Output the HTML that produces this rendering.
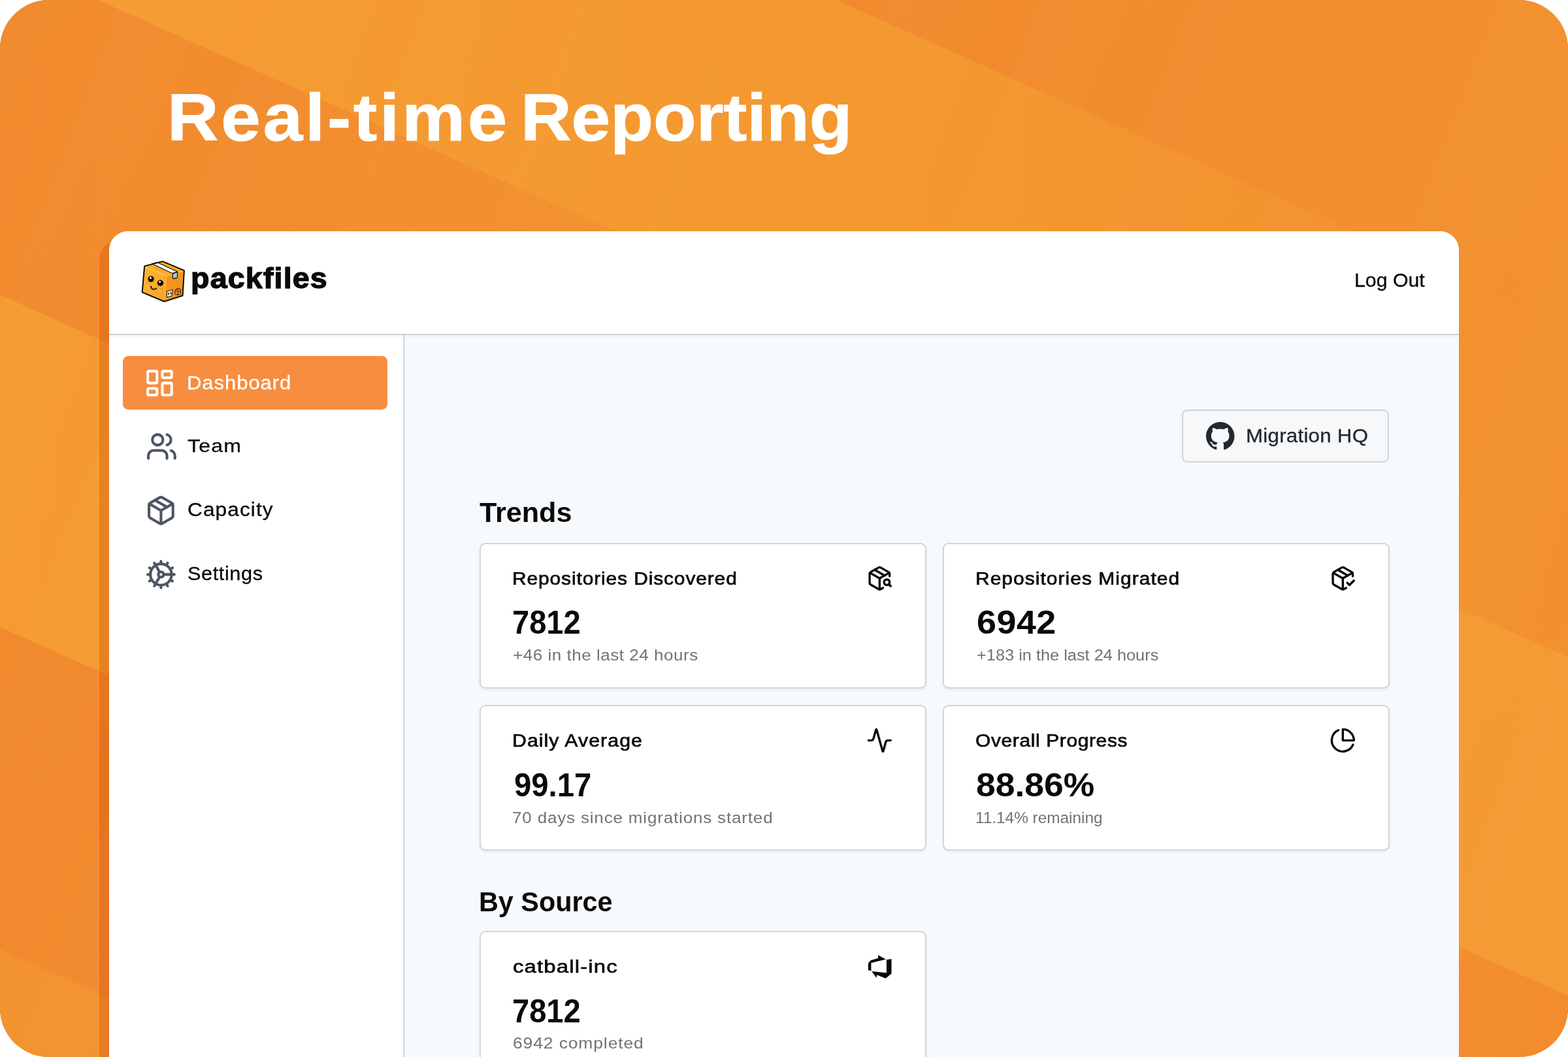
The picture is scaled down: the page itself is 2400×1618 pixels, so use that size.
<!DOCTYPE html>
<html lang="en">
<head>
<meta charset="utf-8">
<title>Real-time Reporting</title>
<style>
*{box-sizing:border-box;margin:0;padding:0}
html,body{width:2400px;height:1618px;overflow:hidden;background:#fff}
body{position:relative;font-family:"Liberation Sans",sans-serif}
.stage{position:absolute;left:0;top:0;width:2400px;height:1618px;border-radius:75px;overflow:hidden;background:#f28d2e}
.stage>svg.bg{position:absolute;left:0;top:0}
.t{position:absolute;white-space:nowrap;transform-origin:0 0;font-family:"Liberation Sans",sans-serif}
.shadow{position:absolute;left:152px;top:368.3px;width:200px;height:1400px;border-radius:29px 0 0 0;background:rgba(200,55,0,.27)}
.app{z-index:0;position:absolute;left:166.5px;top:353.6px;width:2066.9px;height:1400px;border-radius:29px 29px 0 0;background:#fff;overflow:hidden}
.hdr{position:absolute;left:0;top:0;width:100%;height:159.4px;background:#fff;border-bottom:2px solid #cfd3da;box-shadow:0 2px 4px rgba(0,0,0,.05);z-index:3}
.side{position:absolute;left:0;top:159.4px;width:452.6px;height:1300px;background:#fff;border-right:2px solid #d1d4dc;box-shadow:1px 0 3px rgba(0,0,0,.03);z-index:2}
.main{position:absolute;left:452px;top:159.4px;right:0;height:1300px;background:#f7fafc;z-index:1}
.nav-active{position:absolute;left:188px;top:545.3px;width:404.8px;height:81.6px;border-radius:8.5px;background:#f78d3f}
.ico{position:absolute;overflow:visible}
.card{position:absolute;width:684px;height:223.1px;background:#fff;border:2px solid #d0d5dd;border-radius:9px;box-shadow:0 2px 4px rgba(0,0,0,.07)}
.btn{position:absolute;left:1809.2px;top:627.1px;width:317.3px;height:80.5px;border:2px solid #d2d5d9;border-radius:8px;background:#f6f8fa}
</style>
</head>
<body>
<div class="stage">
<svg class="bg" width="2400" height="1618" viewBox="0 0 2400 1618">
<defs>
<linearGradient id="g0" gradientUnits="userSpaceOnUse" x1="1280" y1="0" x2="2400" y2="0"><stop offset="0" stop-color="#f18a2d"/><stop offset="0.55" stop-color="#f28d2e"/><stop offset="1" stop-color="#f2912e"/></linearGradient>
<linearGradient id="g1" gradientUnits="userSpaceOnUse" x1="0" y1="0" x2="2400" y2="0"><stop offset="0" stop-color="#f59c32"/><stop offset="0.6" stop-color="#f4972f"/><stop offset="1" stop-color="#f2902e"/></linearGradient>
<linearGradient id="g2" gradientUnits="userSpaceOnUse" x1="0" y1="0" x2="2400" y2="0"><stop offset="0" stop-color="#f18a2d"/><stop offset="1" stop-color="#f59b33"/></linearGradient>
<linearGradient id="g3" gradientUnits="userSpaceOnUse" x1="0" y1="0" x2="2400" y2="0"><stop offset="0" stop-color="#f59b31"/><stop offset="1" stop-color="#f28c2e"/></linearGradient>
<linearGradient id="g4" gradientUnits="userSpaceOnUse" x1="0" y1="0" x2="2400" y2="0"><stop offset="0" stop-color="#f1892d"/><stop offset="1" stop-color="#f59b33"/></linearGradient>
<linearGradient id="g5" gradientUnits="userSpaceOnUse" x1="0" y1="0" x2="2400" y2="0"><stop offset="0" stop-color="#f3932f"/><stop offset="1" stop-color="#f28c2e"/></linearGradient>
<linearGradient id="gs" gradientUnits="userSpaceOnUse" x1="184" y1="0" x2="388" y2="79.3" spreadMethod="repeat"><stop offset="0" stop-color="#fff" stop-opacity=".016"/><stop offset="1" stop-color="#fff" stop-opacity="0"/></linearGradient>
</defs>
<rect width="2400" height="1618" fill="url(#g0)"/>
<polygon points="0,-572 2400,500.8 2400,1005.8 0,-67" fill="url(#g1)"/>
<polygon points="0,-67 2400,1005.8 2400,1524.3 0,451.5" fill="url(#g2)"/>
<polygon points="0,451.5 2400,1524.3 2400,2032.8 0,960" fill="url(#g3)"/>
<polygon points="0,960 2400,2032.8 2400,2525.8 0,1453" fill="url(#g4)"/>
<polygon points="0,1453 2400,2525.8 0,2525.8" fill="url(#g5)"/>
<rect width="2400" height="1618" fill="url(#gs)"/>
</svg>
<div class="shadow"></div>
<div class="app">
  <div class="hdr"></div>
  <div class="side"></div>
  <div class="main"></div>
</div>
<div class="nav-active"></div>
<div class="btn"></div>
<div class="card" style="left:733.9px;top:830.8px"></div>
<div class="card" style="left:1442.6px;top:830.8px"></div>
<div class="card" style="left:733.9px;top:1078.6px"></div>
<div class="card" style="left:1442.6px;top:1078.6px"></div>
<div class="card" style="left:733.9px;top:1425.4px"></div>
<svg class="ico" style="left:220.4px;top:561.7px" width="48.8" height="48.8" viewBox="0 0 24 24" fill="none" stroke="#fff" stroke-width="2" stroke-linecap="round" stroke-linejoin="round"><rect x="3" y="3" width="7" height="9" rx="1"/><rect x="14" y="3" width="7" height="5" rx="1"/><rect x="14" y="12" width="7" height="9" rx="1"/><rect x="3" y="16" width="7" height="5" rx="1"/></svg>
<svg class="ico" style="left:222.5px;top:659.3px" width="48.8" height="48.8" viewBox="0 0 24 24" fill="none" stroke="#4b5563" stroke-width="2" stroke-linecap="round" stroke-linejoin="round"><path d="M16 21v-2a4 4 0 0 0-4-4H6a4 4 0 0 0-4 4v2"/><circle cx="9" cy="7" r="4"/><path d="M22 21v-2a4 4 0 0 0-3-3.87"/><path d="M16 3.13a4 4 0 0 1 0 7.75"/></svg>
<svg class="ico" style="left:222.3px;top:756.9px" width="48.8" height="48.8" viewBox="0 0 24 24" fill="none" stroke="#4b5563" stroke-width="2" stroke-linecap="round" stroke-linejoin="round"><path d="M11 21.73a2 2 0 0 0 2 0l7-4A2 2 0 0 0 21 16V8a2 2 0 0 0-1-1.73l-7-4a2 2 0 0 0-2 0l-7 4A2 2 0 0 0 3 8v8a2 2 0 0 0 1 1.73z"/><path d="M12 22V12"/><path d="M3.29 7 12 12l8.71-5"/><path d="m7.5 4.27 9 5.15"/></svg>
<svg class="ico" style="left:222.3px;top:854.6px" width="48.8" height="48.8" viewBox="0 0 24 24" fill="none" stroke="#4b5563" stroke-width="2" stroke-linecap="round" stroke-linejoin="round"><path d="M12 20a8 8 0 1 0 0-16 8 8 0 0 0 0 16Z"/><path d="M12 14a2 2 0 1 0 0-4 2 2 0 0 0 0 4Z"/><path d="M12 2v2"/><path d="M12 22v-2"/><path d="m17 20.66-1-1.73"/><path d="M11 10.27 7 3.34"/><path d="m20.66 17-1.73-1"/><path d="m3.34 7 1.73 1"/><path d="M14 12h8"/><path d="M2 12h2"/><path d="m20.66 7-1.73 1"/><path d="m3.34 17 1.73-1"/><path d="m17 3.34-1 1.73"/><path d="m11 13.73-4 6.93"/></svg>
<svg class="ico" style="left:1326px;top:865.3px" width="40.7" height="40.7" viewBox="0 0 24 24" fill="none" stroke="#0a0a0a" stroke-width="2" stroke-linecap="round" stroke-linejoin="round"><path d="M21 10V8a2 2 0 0 0-1-1.73l-7-4a2 2 0 0 0-2 0l-7 4A2 2 0 0 0 3 8v8a2 2 0 0 0 1 1.73l7 4a2 2 0 0 0 2 0l2-1.14"/><path d="m7.5 4.27 9 5.15"/><path d="M3.29 7 12 12l8.71-5"/><path d="M12 22V12"/><circle cx="18.5" cy="15.5" r="2.5"/><path d="M20.27 17.27 22 19"/></svg>
<svg class="ico" style="left:2035.4px;top:865.3px" width="40.7" height="40.7" viewBox="0 0 24 24" fill="none" stroke="#0a0a0a" stroke-width="2" stroke-linecap="round" stroke-linejoin="round"><path d="m16 16 2 2 4-4"/><path d="M21 10V8a2 2 0 0 0-1-1.73l-7-4a2 2 0 0 0-2 0l-7 4A2 2 0 0 0 3 8v8a2 2 0 0 0 1 1.73l7 4a2 2 0 0 0 2 0l2-1.14"/><path d="m7.5 4.27 9 5.15"/><path d="M3.29 7 12 12l8.71-5"/><path d="M12 22V12"/></svg>
<svg class="ico" style="left:1326px;top:1113.1px" width="40.7" height="40.7" viewBox="0 0 24 24" fill="none" stroke="#0a0a0a" stroke-width="2" stroke-linecap="round" stroke-linejoin="round"><path d="M22 12h-2.48a2 2 0 0 0-1.93 1.46l-2.35 8.36a.25.25 0 0 1-.48 0L9.24 2.18a.25.25 0 0 0-.48 0l-2.35 8.36A2 2 0 0 1 4.49 12H2"/></svg>
<svg class="ico" style="left:2035.4px;top:1113.1px" width="40.7" height="40.7" viewBox="0 0 24 24" fill="none" stroke="#0a0a0a" stroke-width="2" stroke-linecap="round" stroke-linejoin="round"><path d="M21.21 15.89A10 10 0 1 1 8 2.83"/><path d="M22 12A10 10 0 0 0 12 2v10z"/></svg>
<svg class="ico" style="left:1320px;top:1455px" width="50" height="50" viewBox="1320 1455 50 50" fill="#0a0a0a"><path d="M1328.8 1474.7 1332.7 1470.1 1344.1 1466.8 1344.1 1461.9 1355.9 1468.6 1333.4 1473.9 1333.4 1486.2 1328.8 1484.9zM1364.5 1468.1 1364.5 1490.3 1355.6 1497.7 1342.1 1492.3 1341.6 1497.1 1334.2 1486.7 1356.9 1489.2 1356.9 1469.1z"/></svg>
<svg class="ico" style="left:1845.7px;top:645.9px" width="43.5" height="42.4" viewBox="0 0.297 24 23.4" preserveAspectRatio="none" fill="#24292f"><path d="M12 .297c-6.63 0-12 5.373-12 12 0 5.303 3.438 9.8 8.205 11.385.6.113.82-.258.82-.577 0-.285-.01-1.04-.015-2.04-3.338.724-4.042-1.61-4.042-1.61C4.422 18.07 3.633 17.7 3.633 17.7c-1.087-.744.084-.729.084-.729 1.205.084 1.838 1.236 1.838 1.236 1.07 1.835 2.809 1.305 3.495.998.108-.776.417-1.305.76-1.605-2.665-.3-5.466-1.332-5.466-5.93 0-1.31.465-2.38 1.235-3.22-.135-.303-.54-1.523.105-3.176 0 0 1.005-.322 3.3 1.23.96-.267 1.98-.399 3-.405 1.02.006 2.04.138 3 .405 2.28-1.552 3.285-1.23 3.285-1.23.645 1.653.24 2.873.12 3.176.765.84 1.23 1.91 1.23 3.22 0 4.61-2.805 5.625-5.475 5.92.42.36.81 1.096.81 2.22 0 1.606-.015 2.896-.015 3.286 0 .315.21.69.825.57C20.565 22.092 24 17.592 24 12.297c0-6.627-5.373-12-12-12"/></svg>
<svg class="ico" style="left:210px;top:392px" width="80" height="76" viewBox="0 0 80 76">
<defs>
<linearGradient id="lf" x1="0" y1="0" x2="1" y2="1"><stop offset="0" stop-color="#fdb731"/><stop offset="1" stop-color="#f8a42a"/></linearGradient>
<linearGradient id="rf" x1="0" y1="0" x2="1" y2="1"><stop offset="0" stop-color="#f49a20"/><stop offset="1" stop-color="#f0901c"/></linearGradient>
<linearGradient id="tf" x1="0" y1="1" x2="1" y2="0"><stop offset="0" stop-color="#f7a120"/><stop offset="1" stop-color="#fdbb26"/></linearGradient>
</defs>
<polygon points="10.4,15 45.1,29.6 41.2,70.3 6.8,55.7" fill="url(#lf)"/>
<polygon points="45.1,29.6 72.7,21.8 70.3,61 41.2,70.3" fill="url(#rf)"/>
<polygon points="10.4,15 38.8,7.3 72.7,21.8 45.1,29.6" fill="url(#tf)"/>
<path d="M11.6 16.6 44.6 30.4 72 22.6" fill="none" stroke="#ffd66e" stroke-width="1" opacity=".75"/>
<path d="M44.8 30.6 41.4 69" fill="none" stroke="#fbb94a" stroke-width="1" opacity=".7"/>
<polygon points="22.5,11.8 30.4,9.6 62,24 54,26.4" fill="#fff" stroke="#0a0a0a" stroke-width="1.1" stroke-linejoin="round"/>
<polygon points="54.6,26.6 61.8,24.4 61.3,32.8 59.4,34.4 58,33.2 56.4,34.8 54.3,34" fill="#a9c8dc" stroke="#0a0a0a" stroke-width="1.1" stroke-linejoin="round"/>
<polygon points="11.2,15.4 38.8,8.1 71.9,22.2 69.6,60.5 41.3,69.5 7.6,55.3" fill="none" stroke="#0a0a0a" stroke-width="1.9" stroke-linejoin="round"/>
<circle cx="21.1" cy="35.1" r="4.7" fill="#050505"/><circle cx="35.4" cy="41.2" r="4.7" fill="#050505"/>
<circle cx="20.5" cy="33.4" r="1.55" fill="#fff"/><circle cx="34.6" cy="39.3" r="1.55" fill="#fff"/>
<path d="M21 46.3c.6 3.2 2.4 4.6 4.4 4.6 1.6 0 3-.6 4.1-1.5" fill="none" stroke="#0a0a0a" stroke-width="1.8" stroke-linecap="round"/>
<ellipse cx="15.3" cy="41.2" rx="2.1" ry="1" fill="#f37a1f" opacity=".85" transform="rotate(22 15.3 41.2)"/>
<ellipse cx="37.2" cy="49.8" rx="2.1" ry="1" fill="#f37a1f" opacity=".85" transform="rotate(22 37.2 49.8)"/>
<polygon points="45.6,53.9 54.3,51.5 53.4,60.6 45.3,63" fill="#fff" stroke="#0a0a0a" stroke-width="1"/>
<ellipse cx="48.1" cy="57.6" rx=".8" ry="2.4" fill="#0a0a0a" transform="rotate(6 48.1 57.6)"/><ellipse cx="51.5" cy="56.6" rx=".8" ry="2.4" fill="#0a0a0a" transform="rotate(6 51.5 56.6)"/>
<path d="M58 52.6l3.6-3.4 4.2 1.2.8 3.6-.3 3.8-3.9 1.8-4.2-1.3-.4-3.4zM58 52.6l4.2 1.4 4.4-.2M62.2 54v5.5M60 50.6l4.3 1.4" fill="none" stroke="#5a2d05" stroke-width="1.1" stroke-linejoin="round"/>
</svg>

<div class="t" style="left:256.20px;top:128.66px;font-size:102px;line-height:102px;font-weight:700;color:#ffffff;letter-spacing:3.570px;transform:scaleX(1.0666);-webkit-text-stroke:1px #fff;">Real-time</div>
<div class="t" style="left:797.48px;top:128.66px;font-size:102px;line-height:102px;font-weight:700;color:#ffffff;letter-spacing:0.000px;transform:scaleX(1.0535);-webkit-text-stroke:1px #fff;">Reporting</div>
<div class="t" style="left:291.58px;top:404.15px;font-size:44px;line-height:44px;font-weight:700;color:#0a0a0a;letter-spacing:1.082px;transform:scaleX(1.0600);-webkit-text-stroke:1.3px #0a0a0a;">packfiles</div>
<div class="t" style="left:2073.33px;top:414.21px;font-size:30px;line-height:30px;font-weight:400;color:#0a0a0a;letter-spacing:0.000px;transform:scaleX(1.0096);-webkit-text-stroke:0.3px currentColor;">Log Out</div>
<div class="t" style="left:285.57px;top:570.50px;font-size:29.3px;line-height:29.3px;font-weight:400;color:#ffffff;letter-spacing:0.876px;transform:scaleX(1.0600);-webkit-text-stroke:0.3px currentColor;">Dashboard</div>
<div class="t" style="left:287.30px;top:668.47px;font-size:28.5px;line-height:28.5px;font-weight:400;color:#0a0a0a;letter-spacing:0.998px;transform:scaleX(1.1263);-webkit-text-stroke:0.3px currentColor;">Team</div>
<div class="t" style="left:286.72px;top:765.82px;font-size:28.8px;line-height:28.8px;font-weight:400;color:#0a0a0a;letter-spacing:1.008px;transform:scaleX(1.0972);-webkit-text-stroke:0.3px currentColor;">Capacity</div>
<div class="t" style="left:287.24px;top:863.85px;font-size:29px;line-height:29px;font-weight:400;color:#0a0a0a;letter-spacing:0.532px;transform:scaleX(1.0600);-webkit-text-stroke:0.3px currentColor;">Settings</div>
<div class="t" style="left:1906.56px;top:651.73px;font-size:29.5px;line-height:29.5px;font-weight:400;color:#24292f;letter-spacing:0.240px;transform:scaleX(1.0600);-webkit-text-stroke:0.3px currentColor;">Migration HQ</div>
<div class="t" style="left:734.30px;top:764.49px;font-size:41.6px;line-height:41.6px;font-weight:700;color:#0a0a0a;letter-spacing:0.000px;transform:scaleX(1.0370);">Trends</div>
<div class="t" style="left:732.92px;top:1360.09px;font-size:41.6px;line-height:41.6px;font-weight:700;color:#0a0a0a;letter-spacing:0.000px;transform:scaleX(0.9939);">By Source</div>
<div class="t" style="left:783.76px;top:871.23px;font-size:28.2px;line-height:28.2px;font-weight:400;color:#0a0a0a;letter-spacing:0.855px;transform:scaleX(1.0600);-webkit-text-stroke:0.7px #0a0a0a;">Repositories Discovered</div>
<div class="t" style="left:783.73px;top:927.50px;font-size:50.8px;line-height:50.8px;font-weight:700;color:#0a0a0a;letter-spacing:0.000px;transform:scaleX(0.9269);">7812</div>
<div class="t" style="left:784.73px;top:991.36px;font-size:24.5px;line-height:24.5px;font-weight:400;color:#71717a;letter-spacing:0.511px;transform:scaleX(1.0600);">+46 in the last 24 hours</div>
<div class="t" style="left:1493.26px;top:871.23px;font-size:28.2px;line-height:28.2px;font-weight:400;color:#0a0a0a;letter-spacing:0.987px;transform:scaleX(1.0619);-webkit-text-stroke:0.7px #0a0a0a;">Repositories Migrated</div>
<div class="t" style="left:1494.62px;top:927.50px;font-size:50.8px;line-height:50.8px;font-weight:700;color:#0a0a0a;letter-spacing:0.482px;transform:scaleX(1.0600);">6942</div>
<div class="t" style="left:1495.26px;top:991.36px;font-size:24.5px;line-height:24.5px;font-weight:400;color:#71717a;letter-spacing:0.000px;transform:scaleX(1.0346);">+183 in the last 24 hours</div>
<div class="t" style="left:783.74px;top:1119.03px;font-size:28.2px;line-height:28.2px;font-weight:400;color:#0a0a0a;letter-spacing:0.987px;transform:scaleX(1.0734);-webkit-text-stroke:0.7px #0a0a0a;">Daily Average</div>
<div class="t" style="left:786.72px;top:1176.60px;font-size:50.8px;line-height:50.8px;font-weight:700;color:#0a0a0a;letter-spacing:0.000px;transform:scaleX(0.9297);">99.17</div>
<div class="t" style="left:784.43px;top:1239.76px;font-size:24.5px;line-height:24.5px;font-weight:400;color:#71717a;letter-spacing:0.796px;transform:scaleX(1.0600);">70 days since migrations started</div>
<div class="t" style="left:1492.80px;top:1119.03px;font-size:28.2px;line-height:28.2px;font-weight:400;color:#0a0a0a;letter-spacing:0.625px;transform:scaleX(1.0600);-webkit-text-stroke:0.7px #0a0a0a;">Overall Progress</div>
<div class="t" style="left:1494.13px;top:1176.60px;font-size:50.8px;line-height:50.8px;font-weight:700;color:#0a0a0a;letter-spacing:0.000px;transform:scaleX(1.0513);">88.86%</div>
<div class="t" style="left:1493.11px;top:1239.76px;font-size:24.5px;line-height:24.5px;font-weight:400;color:#71717a;letter-spacing:0.000px;transform:scaleX(0.9946);">11.14% remaining</div>
<div class="t" style="left:784.57px;top:1465.03px;font-size:28.2px;line-height:28.2px;font-weight:400;color:#0a0a0a;letter-spacing:0.987px;transform:scaleX(1.1668);-webkit-text-stroke:0.7px #0a0a0a;">catball-inc</div>
<div class="t" style="left:783.73px;top:1522.90px;font-size:50.8px;line-height:50.8px;font-weight:700;color:#0a0a0a;letter-spacing:0.000px;transform:scaleX(0.9269);">7812</div>
<div class="t" style="left:784.61px;top:1585.36px;font-size:24.5px;line-height:24.5px;font-weight:400;color:#71717a;letter-spacing:0.858px;transform:scaleX(1.0768);">6942 completed</div>
</div>
</body>
</html>
